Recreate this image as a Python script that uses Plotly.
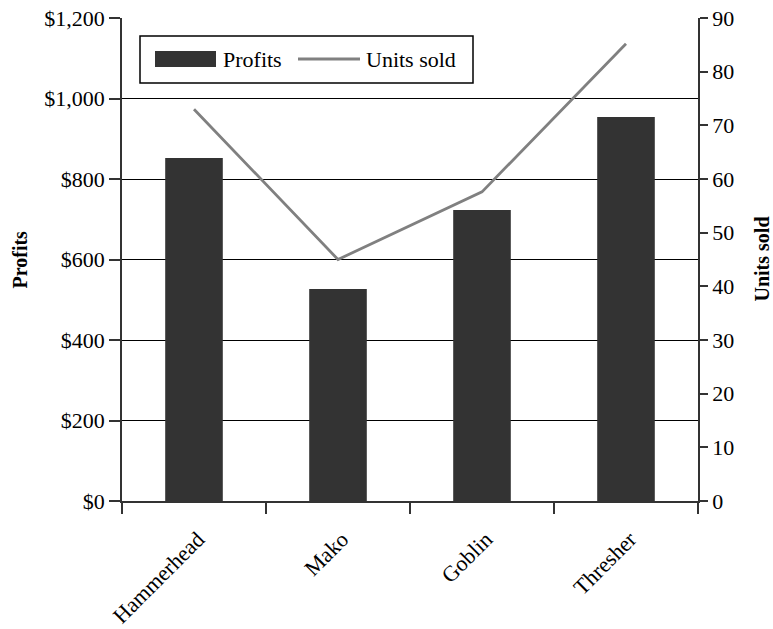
import plotly.graph_objects as go

categories = ["Hammerhead", "Mako", "Goblin", "Thresher"]
profits = [852, 527, 723, 954]
units_sold = [73, 45, 57.6, 85.2]

FONT = "Liberation Serif"
BAR_COLOR = "#333333"
LINE_COLOR = "#808080"

W, H = 773, 629
ML, MR, MT, MB = 122, 75, 18, 128
PW, PH = W - ML - MR, H - MT - MB


def px(x):
    return (x - ML) / PW


def py(y):
    return (H - MB - y) / PH


fig = go.Figure()
fig.add_trace(go.Bar(x=categories, y=profits, name="Profits", marker_color=BAR_COLOR,
                     marker_line_width=0, width=0.4, showlegend=False, yaxis="y"))
fig.add_trace(go.Scatter(x=categories, y=units_sold, name="Units sold", mode="lines",
                         line=dict(color=LINE_COLOR, width=2.8), showlegend=False, yaxis="y2"))

# legend box drawn in paper coordinates
shapes = [
    dict(type="rect", xref="paper", yref="paper", x0=px(140), x1=px(473), y0=py(36), y1=py(83),
         line=dict(color="black", width=1.5), fillcolor="white", layer="above"),
    dict(type="rect", xref="paper", yref="paper", x0=px(155), x1=px(216), y0=py(51), y1=py(67),
         line=dict(width=0), fillcolor=BAR_COLOR, layer="above"),
    dict(type="line", xref="paper", yref="paper", x0=px(298), x1=px(360), y0=py(59), y1=py(59),
         line=dict(color=LINE_COLOR, width=2.8), layer="above"),
]
annotations = [
    dict(text="Profits", xref="paper", yref="paper", x=px(221), y=py(59), xanchor="left",
         yanchor="middle", showarrow=False, font=dict(size=22)),
    dict(text="Units sold", xref="paper", yref="paper", x=px(364), y=py(59), xanchor="left",
         yanchor="middle", showarrow=False, font=dict(size=22)),
    dict(text="<b>Profits</b>", xref="paper", yref="paper", x=px(19), y=0.5, textangle=-90,
         xanchor="center", yanchor="middle", showarrow=False, font=dict(size=20)),
    dict(text="<b>Units sold</b>", xref="paper", yref="paper", x=px(761), y=0.5, textangle=-90,
         xanchor="center", yanchor="middle", showarrow=False, font=dict(size=20)),
]

fig.update_layout(
    width=W, height=H,
    margin=dict(l=ML, r=MR, t=MT, b=MB),
    paper_bgcolor="white", plot_bgcolor="white",
    font=dict(family=FONT, size=22, color="black"),
    showlegend=False,
    xaxis=dict(type="category", tickson="boundaries", ticks="outside", ticklen=11,
               tickcolor="#333", tickwidth=1.5, tickangle=-45, showline=True,
               linecolor="#333", linewidth=1.5, showgrid=False, automargin=False,
               tickfont=dict(size=22), ticklabeloverflow="allow",
               ticklabelstandoff=15, ticklabelshift=4),
    yaxis=dict(range=[0, 1200], dtick=200, tickprefix="$", tickformat=",",
               ticks="outside", ticklen=11, tickcolor="#333", tickwidth=1.5,
               showline=True, linecolor="#333", linewidth=1.5,
               showgrid=True, gridcolor="black", gridwidth=1,
               zeroline=False, automargin=False, tickfont=dict(size=22),
               ticklabeloverflow="allow"),
    yaxis2=dict(range=[0, 90], dtick=10, overlaying="y", side="right",
                ticks="outside", ticklen=8, tickcolor="#333", tickwidth=1.5,
                showline=True, linecolor="#333", linewidth=1.5, showgrid=False,
                zeroline=False, automargin=False, tickfont=dict(size=22),
                ticklabeloverflow="allow"),
    shapes=shapes,
    annotations=annotations,
)

fig.write_html("out.html", config={"displayModeBar": False},
               post_script="document.body.style.margin='0';document.body.style.overflow='hidden';")
